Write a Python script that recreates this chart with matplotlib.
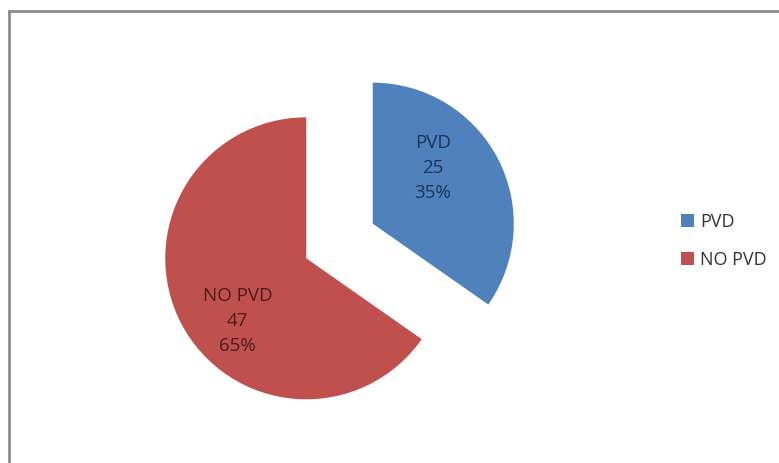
import matplotlib
matplotlib.use("Agg")
from matplotlib import pyplot as plt
from matplotlib.lines import Line2D
import numpy as np

# Data
labels = ["PVD", "NO PVD"]
counts = [25, 47]
percents = ["35%", "65%"]
colors = ["#4F81BD", "#C0504D"]
text_colors = ["#1d3354", "#4a1c1c"]

W, H = 779, 463
fig = plt.figure(figsize=(W / 100, H / 100), dpi=100)
ax = fig.add_axes([0, 0, 1, 1])

# Pie in pixel units (y measured up from bottom); explode is in data units here
radius = 141
center = (339.5, H - 241)
wedges, _ = ax.pie(counts, colors=colors, startangle=90, counterclock=False,
                   radius=radius, center=center, explode=[37.5, 37.5],
                   wedgeprops=dict(linewidth=0))
ax.set_xlim(0, W)
ax.set_ylim(0, H)
ax.set_aspect("equal")
ax.axis("off")

# Data labels inside slices, a bit rotated from the bisector like Excel
for w, lab, n, p, tc, rr in zip(wedges, labels, counts, percents, text_colors, [0.58, 0.66]):
    mid = np.deg2rad((w.theta1 + w.theta2) / 2 + 15)
    cx, cy = w.center
    ax.text(cx + rr * radius * np.cos(mid), cy + rr * radius * np.sin(mid),
            "%s\n%d\n%s" % (lab, n, p), ha="center", va="center",
            color=tc, linespacing=1.5, family="Open Sans", fontsize=13.5)

# Legend
leg = fig.legend(wedges, labels, loc="center left", bbox_to_anchor=(681 / W, 1 - 241 / H),
                 frameon=False, handlelength=0.7, handleheight=0.7, borderpad=0, borderaxespad=0,
                 handletextpad=0.35, labelspacing=1.1, prop={"family": "Open Sans", "size": 13})
for t in leg.get_texts():
    t.set_color("#333333")

# Chart border (only left and top edges visible)
fig.add_artist(Line2D([9 / W, 9 / W], [0, 1 - 11 / H], transform=fig.transFigure, color="#8c8c8c", lw=2))
fig.add_artist(Line2D([9 / W, 1], [1 - 11 / H, 1 - 11 / H], transform=fig.transFigure, color="#8c8c8c", lw=2))

fig.savefig("out.png", dpi=100)
